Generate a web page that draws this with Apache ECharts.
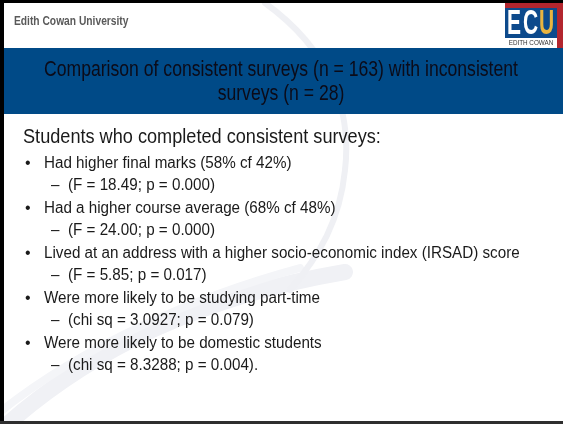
<!DOCTYPE html>
<html>
<head>
<meta charset="utf-8">
<script src="https://cdn.jsdelivr.net/npm/echarts@6/dist/echarts.min.js"></script>
<style>
  html, body { margin: 0; padding: 0; background: #fff; }
  #slide { width: 563px; height: 424px; }
</style>
</head>
<body>
<div id="slide"></div>
<script>
// slide texts
var headerLabel = 'Edith Cowan University';
var titleLines = [
  'Comparison of consistent surveys (n = 163) with inconsistent',
  'surveys (n = 28)'
];
var introLine = 'Students who completed consistent surveys:';
var bulletItems = [
  'Had higher final marks (58% cf 42%)',
  'Had a higher course average (68% cf 48%)',
  'Lived at an address with a higher socio-economic index (IRSAD) score',
  'Were more likely to be studying part-time',
  'Were more likely to be domestic students'
];
var subItems = [
  '(F = 18.49; p = 0.000)',
  '(F = 24.00; p = 0.000)',
  '(F = 5.85; p = 0.017)',
  '(chi sq = 3.0927; p = 0.079)',
  '(chi sq = 8.3288; p = 0.004).'
];
var logoLetters = ['E', 'C', 'U'];

var FONT = '"Liberation Sans", Arial, sans-serif';

function txt(str, x, y, size, color, opts) {
  opts = opts || {};
  return {
    type: 'text',
    x: x,
    y: y,
    scaleX: opts.sx || 1,
    silent: true,
    z: opts.z || 10,
    style: {
      text: str,
      x: 0,
      y: 0,
      fill: color,
      fontFamily: FONT,
      fontSize: size,
      fontWeight: opts.bold ? 'bold' : 'normal',
      align: opts.align || 'left',
      verticalAlign: 'bottom'
    }
  };
}

function swoosh(x1, y1, c1x, c1y, c2x, c2y, x2, y2, width, color) {
  return {
    type: 'bezierCurve', silent: true, z: 1,
    shape: { x1: x1, y1: y1, cpx1: c1x, cpy1: c1y, cpx2: c2x, cpy2: c2y, x2: x2, y2: y2 },
    style: { fill: null, stroke: color, lineWidth: width, lineCap: 'round' }
  };
}

var elements = [];

// faint background swoosh
elements.push(swoosh(-10, 440, 90, 345, 210, 295, 345, 272, 16, '#f0f1f5'));
elements.push(swoosh(-10, 420, 80, 345, 200, 295, 300, 268, 8, '#f4f5f8'));
elements.push(swoosh(265, 3, 330, 50, 352, 110, 345, 170, 6, '#eff0f4'));
elements.push(swoosh(345, 170, 340, 220, 320, 255, 290, 290, 6, '#eff0f4'));

// header
elements.push(txt(headerLabel, 14, 28, 12.5, '#5a5a5a', { bold: true, sx: 0.82 }));

// ECU logo
elements.push({ type: 'rect', silent: true, z: 5, shape: { x: 505, y: 3, width: 53, height: 5 }, style: { fill: '#b3262e' } });
elements.push({ type: 'rect', silent: true, z: 5, shape: { x: 505, y: 8, width: 53, height: 30 }, style: { fill: '#0d4a8c' } });
elements.push({ type: 'rect', silent: true, z: 5, shape: { x: 557, y: 3, width: 6, height: 45 }, style: { fill: '#b3262e' } });
logoLetters.forEach(function (ch, i) {
  elements.push(txt(ch, 507 + i * 16, 42, 35, i === 2 ? '#e9b440' : '#ffffff', { bold: true, sx: 0.6, z: 6 }));
});
elements.push(txt('EDITH COWAN', 531, 47, 7, '#333333', { align: 'center', sx: 0.9, z: 6 }));

// title band
elements.push({ type: 'rect', silent: true, z: 2, shape: { x: 4, y: 48, width: 559, height: 66 }, style: { fill: '#004a87' } });
titleLines.forEach(function (line, i) {
  elements.push(txt(line, 281, 81 + i * 24, 22, '#0b0b18', { align: 'center', sx: 0.8 }));
});

// body
elements.push(txt(introLine, 23, 148, 19.5, '#1a1a1a', { sx: 0.93 }));
bulletItems.forEach(function (item, i) {
  var yb = 172 + i * 44.8;
  elements.push(txt('\u2022', 25, yb, 16, '#1a1a1a'));
  elements.push(txt(item, 44, yb, 16, '#1a1a1a', { sx: 0.95 }));
  elements.push(txt('\u2013', 51, yb + 22, 16, '#1a1a1a', { sx: 0.95 }));
  elements.push(txt(subItems[i], 68, yb + 22, 16, '#1a1a1a', { sx: 0.95 }));
});

// slide frame
elements.push({ type: 'rect', silent: true, z: 20, shape: { x: 0, y: 0, width: 563, height: 3 }, style: { fill: '#000' } });
elements.push({ type: 'rect', silent: true, z: 20, shape: { x: 0, y: 0, width: 4, height: 424 }, style: { fill: '#000' } });
elements.push({ type: 'rect', silent: true, z: 20, shape: { x: 0, y: 421, width: 563, height: 3 }, style: { fill: '#2e2e2e' } });

var chart = echarts.init(document.getElementById('slide'), null, { renderer: 'canvas' });
chart.setOption({
  backgroundColor: '#ffffff',
  animation: false,
  graphic: { elements: elements }
});
</script>
</body>
</html>
